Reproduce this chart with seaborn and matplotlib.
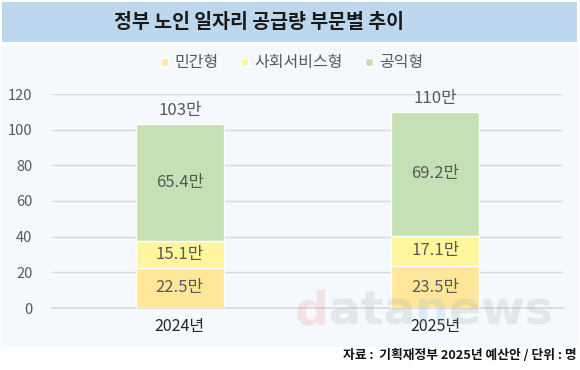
import matplotlib
matplotlib.use("Agg")
import matplotlib.pyplot as plt
import seaborn as sns
import pandas as pd
from matplotlib.patches import Rectangle
from matplotlib.offsetbox import TextArea, HPacker, AnchoredOffsetbox

years = ["2024년", "2025년"]
series = ["민간형", "사회서비스형", "공익형"]
private = [22.5, 23.5]
social = [15.1, 17.1]
public = [65.4, 69.2]
totals_label = ["103만", "110만"]
colors = ["#FFE699", "#FFF59D", "#C5E0B4"]
yticks = [0, 20, 40, 60, 80, 100, 120]

sns.set_theme(style="white")
plt.rcParams['font.family'] = ['Noto Sans CJK KR', 'DejaVu Sans']

fig = plt.figure(figsize=(5.8, 3.7), dpi=100)
fig.patch.set_facecolor("white")
# background panels
fig.patches.append(Rectangle((1/580, 1-347/370), 577/580, 301/370, transform=fig.transFigure,
                             facecolor="#F5F8FC", edgecolor="none", zorder=-10))
fig.patches.append(Rectangle((2/580, 1-42/370), 575/580, 40/370, transform=fig.transFigure,
                             facecolor="#BDD7EE", edgecolor="none", zorder=-10))

ax = fig.add_axes([52/580, 1-308/370, 511/580, 214/370])
ax.set_facecolor("none")

bottoms = [0.0, 0.0]
vals_list = [private, social, public]
for name, vals, c in zip(series, vals_list, colors):
    sns.barplot(x=years, y=vals, bottom=bottoms, color=c, width=0.345, ax=ax,
                saturation=1, edgecolor="white", linewidth=1.0, label=name, zorder=3)
    for i, v in enumerate(vals):
        ax.text(i, bottoms[i] + v / 2, f"{v}만", ha="center", va="center",
                fontsize=12, color="#595959", zorder=4)
    bottoms = [b + v for b, v in zip(bottoms, vals)]

for i, b in enumerate(bottoms):
    ax.annotate(totals_label[i], (i, b), xytext=(0, 4), textcoords="offset points",
                ha="center", va="bottom", fontsize=12, color="#595959")

ax.set_xlim(-0.5, 1.5)
ax.set_ylim(0, 120)
ax.set_yticks(yticks)
ax.yaxis.grid(True, color="#D9D9D9", linewidth=1)
ax.set_axisbelow(True)
for s in ["top", "right", "left"]:
    ax.spines[s].set_visible(False)
ax.spines["bottom"].set_color("#D9D9D9")
ax.tick_params(axis="y", length=0, pad=14, labelsize=10.5, labelcolor="#595959")
ax.tick_params(axis="x", length=0, pad=7, labelsize=11.5, labelcolor="#262626")
ax.set_xlabel("")
ax.set_ylabel("")

leg = ax.legend(loc="center", bbox_to_anchor=(292/580, 1-63/370), bbox_transform=fig.transFigure,
                ncol=3, frameon=False, fontsize=11.5, handlelength=0.45, handleheight=0.45,
                handletextpad=0.4, columnspacing=1.4)
for t in leg.get_texts():
    t.set_color("#595959")

fig.text(259/580, 1-22/370, "정부 노인 일자리 공급량 부문별 추이", ha="center", va="center",
         fontsize=14, fontweight="bold", color="#1a1a1a")
fig.text(577/580, 1-355/370, "자료 :  기획재정부 2025년 예산안 / 단위 : 명", ha="right", va="center",
         fontsize=9.2, fontweight="bold", color="#111111")

# watermark
parts = [("d", "#E88A8A"), ("ata", "#9AA3AE"), ("n", "#7FB6E0"), ("ews", "#9AA3AE")]
boxes = [TextArea(t, textprops=dict(color=c, fontsize=34, fontweight="bold", alpha=0.2,
                                    family="DejaVu Sans")) for t, c in parts]
pack = HPacker(children=boxes, pad=0, sep=0, align="baseline")
ab = AnchoredOffsetbox(loc="center", child=pack, frameon=False, pad=0, borderpad=0,
                       bbox_to_anchor=(424/580, 1-312/370), bbox_transform=fig.transFigure)
ab.set_zorder(10)
fig.add_artist(ab)

fig.savefig("out.png", dpi=100, facecolor="white")
